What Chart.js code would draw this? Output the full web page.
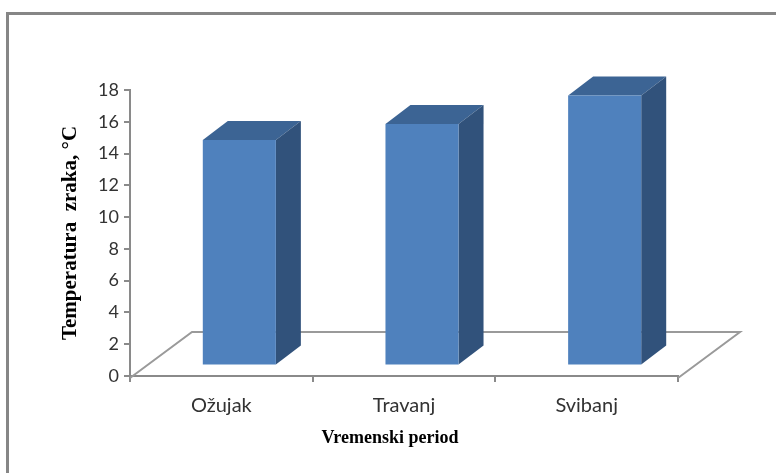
<!DOCTYPE html>
<html>
<head>
<meta charset="utf-8">
<style>
  html, body { margin: 0; padding: 0; background: #fff; }
  #wrap { position: relative; width: 776px; height: 473px; }
</style>
<script src="https://cdn.jsdelivr.net/npm/chart.js@4"></script>
</head>
<body>
<div id="wrap"><canvas id="barChart"></canvas></div>
<script>
const categories = ['Ožujak', 'Travanj', 'Svibanj'];
const temperatures = [14.2, 15.2, 17.0];
const yTickStep = 2;
const yMax = 18;
const xTitle = 'Vremenski period';
const yTitle = 'Temperatura  zraka, °C';

// the bars sit forward of the axes, this is the fake 3d shift
const shiftX = 18, shiftY = -10.5;
const depthX = 25, depthY = -19;

// frame and floor of the chart
const backdrop = {
    id: 'backdrop',
    beforeDatasetsDraw(chart) {
        const ctx = chart.ctx;
        const a = chart.chartArea;
        ctx.save();
        ctx.strokeStyle = '#868686';
        ctx.lineWidth = 3;
        ctx.beginPath();
        ctx.moveTo(7.5, 473);
        ctx.lineTo(7.5, 13.5);
        ctx.lineTo(776, 13.5);
        ctx.stroke();
        ctx.strokeStyle = '#9a9a9a';
        ctx.lineWidth = 2;
        ctx.beginPath();
        ctx.moveTo(a.left, a.bottom + 2);
        ctx.lineTo(192, 332);
        ctx.lineTo(740, 332);
        ctx.lineTo(a.right, a.bottom + 2);
        ctx.stroke();
        ctx.restore();
    },
    beforeDatasetDraw(chart) {
        const ctx = chart.ctx;
        ctx.save();
        ctx.translate(shiftX, shiftY);
        chart.getDatasetMeta(0).data.forEach(bar => {
            const l = bar.x - bar.width / 2, r = bar.x + bar.width / 2;
            ctx.fillStyle = '#3c6494';
            ctx.beginPath();
            ctx.moveTo(l, bar.y);
            ctx.lineTo(l + depthX, bar.y + depthY);
            ctx.lineTo(r + depthX, bar.y + depthY);
            ctx.lineTo(r, bar.y);
            ctx.fill();
            ctx.fillStyle = '#31527b';
            ctx.beginPath();
            ctx.moveTo(r, bar.y);
            ctx.lineTo(r + depthX, bar.y + depthY);
            ctx.lineTo(r + depthX, bar.base + depthY);
            ctx.lineTo(r, bar.base);
            ctx.fill();
        });
    },
    afterDatasetDraw(chart) {
        chart.ctx.restore();
    },
    // x title is off centre in the original, chart.js can only centre it on the axis
    afterDraw(chart) {
        const ctx = chart.ctx;
        ctx.save();
        ctx.font = 'bold 18px "Liberation Serif"';
        ctx.fillStyle = '#000';
        ctx.textAlign = 'center';
        ctx.textBaseline = 'middle';
        ctx.fillText(xTitle, 390, 438);
        ctx.restore();
    }
};

new Chart(document.getElementById('barChart').getContext('2d'), {
    type: 'bar',
    data: {
        labels: categories,
        datasets: [{
            data: temperatures,
            backgroundColor: '#4f81bd',
            barPercentage: 0.4,
            categoryPercentage: 1
        }]
    },
    options: {
        responsive: true,
        maintainAspectRatio: false,
        animation: false,
        layout: { padding: { top: 90, right: 98, left: 0, bottom: 0 } },
        plugins: { legend: { display: false }, tooltip: { enabled: false } },
        scales: {
            x: {
                afterFit(scale) { scale.height = 97; },
                grid: { drawOnChartArea: false, color: '#8a8a8a', lineWidth: 2, tickLength: 6 },
                border: { color: '#8a8a8a', width: 2 },
                ticks: { color: '#333', padding: 12, font: { family: 'Lato', size: 20 } }
            },
            y: {
                min: 0,
                max: yMax,
                afterFit(scale) { scale.width = 130; },
                grid: { drawOnChartArea: false, color: '#8a8a8a', lineWidth: 2, tickLength: 6 },
                border: { color: '#8a8a8a', width: 2 },
                ticks: { stepSize: yTickStep, color: '#333', padding: 5, font: { family: 'Lato', size: 18 } },
                title: {
                    display: true,
                    text: yTitle,
                    color: '#000',
                    padding: { top: 58, bottom: 0 },
                    font: { family: 'Liberation Serif', size: 21, weight: 'bold' }
                }
            }
        }
    },
    plugins: [backdrop]
});
</script>
</body>
</html>
